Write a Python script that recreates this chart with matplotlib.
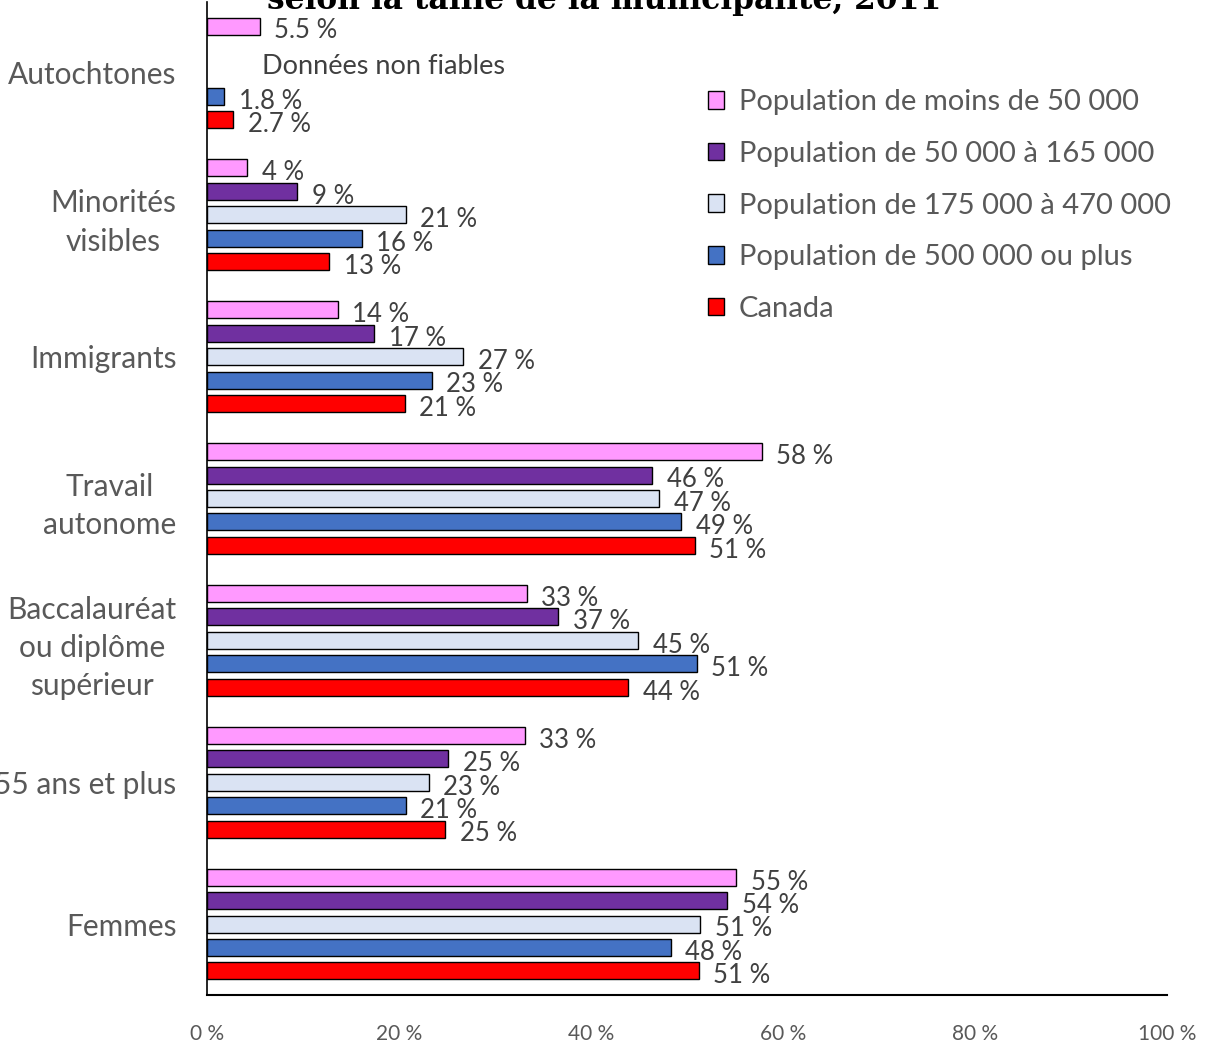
import matplotlib
matplotlib.use("Agg")
import matplotlib.pyplot as plt
import numpy as np

categories = ["Autochtones", "Minorités\nvisibles", "Immigrants", "Travail\nautonome",
              "Baccalauréat\nou diplôme\nsupérieur", "55 ans et plus", "Femmes"]
series_names = ["Population de moins de 50 000", "Population de 50 000 à 165 000",
                "Population de 175 000 à 470 000", "Population de 500 000 ou plus", "Canada"]
colors = ["#FF99FF", "#7030A0", "#DAE3F3", "#4472C4", "#FF0000"]

# values (%) per series, in category order; None = données non fiables
pop_lt50k   = [5.5, 4.2, 13.6, 57.8, 33.3, 33.1, 55.1]
pop_50_165k = [None, 9.4, 17.4, 46.4, 36.6, 25.1, 54.2]
pop_175_470k = [None, 20.7, 26.7, 47.1, 44.9, 23.1, 51.4]
pop_500k    = [1.8, 16.1, 23.4, 49.4, 51.0, 20.7, 48.3]
canada      = [2.7, 12.7, 20.6, 50.8, 43.9, 24.8, 51.2]
label_decimals = [1, 0, 0, 0, 0, 0, 0]

series = [pop_lt50k, pop_50_165k, pop_175_470k, pop_500k, canada]

label_font = "Lato"
gray = "#595959"

fig = plt.figure(figsize=(12.09, 10.42), dpi=100)
ax = fig.add_axes([207/1209, 1-995/1042, (1167-207)/1209, (995-2)/1042])

n_cat = len(categories)
centers = np.arange(n_cat)[::-1]  # top category at highest y
step = 0.165
height = 0.12
offsets = [2*step, step, 0, -step, -2*step]

for s, (vals, col, name, off) in enumerate(zip(series, colors, series_names, offsets)):
    ys, xs, labs = [], [], []
    for i, v in enumerate(vals):
        if v is None:
            continue
        ys.append(centers[i] + off)
        xs.append(v)
        labs.append(f"{v:.{label_decimals[i]}f} %")
    ax.barh(ys, xs, height=height, color=col, edgecolor="black", linewidth=1.0,
            label=name)
    for y, x, lab in zip(ys, xs, labs):
        ax.annotate(lab, xy=(x, y), xytext=(10.5, -3.5), textcoords="offset points",
                    ha="left", va="center", fontsize=18.5, color="#404040",
                    family=label_font)

ax.text(5.7, centers[0] + 0.045, "Données non fiables", ha="left", va="center",
        fontsize=19.5, color="#404040", family=label_font)

ax.set_xlim(0, 100)
ax.set_ylim(-0.5, n_cat - 0.5)
ax.set_yticks(centers)
ax.set_yticklabels(categories, fontsize=21.5, color=gray, family=label_font,
                   multialignment="center", linespacing=1.45)
ax.set_xticks(np.arange(0, 101, 20))
ax.set_xticklabels([f"{t} %" for t in range(0, 101, 20)], fontsize=15, color=gray,
                   family=label_font)
ax.tick_params(axis="y", length=0, pad=22)
ax.tick_params(axis="x", length=0, pad=21)
for sp in ["top", "right"]:
    ax.spines[sp].set_visible(False)
ax.spines["left"].set_linewidth(1.2)
ax.spines["bottom"].set_linewidth(1.5)

leg = fig.legend(loc="upper left", bbox_to_anchor=(682/1209, 1-63/1042), frameon=False,
                 prop={"family": label_font, "size": 21}, handlelength=0.55,
                 handleheight=0.55, handletextpad=0.5, labelspacing=0.88)
for t in leg.get_texts():
    t.set_color(gray)

fig.text(0.5, 1-9/1042, "selon la taille de la municipalité, 2011", ha="center",
         va="baseline", fontsize=22.5, fontweight="bold", family="DejaVu Serif",
         color="black")

fig.savefig("out.png", dpi=100)
